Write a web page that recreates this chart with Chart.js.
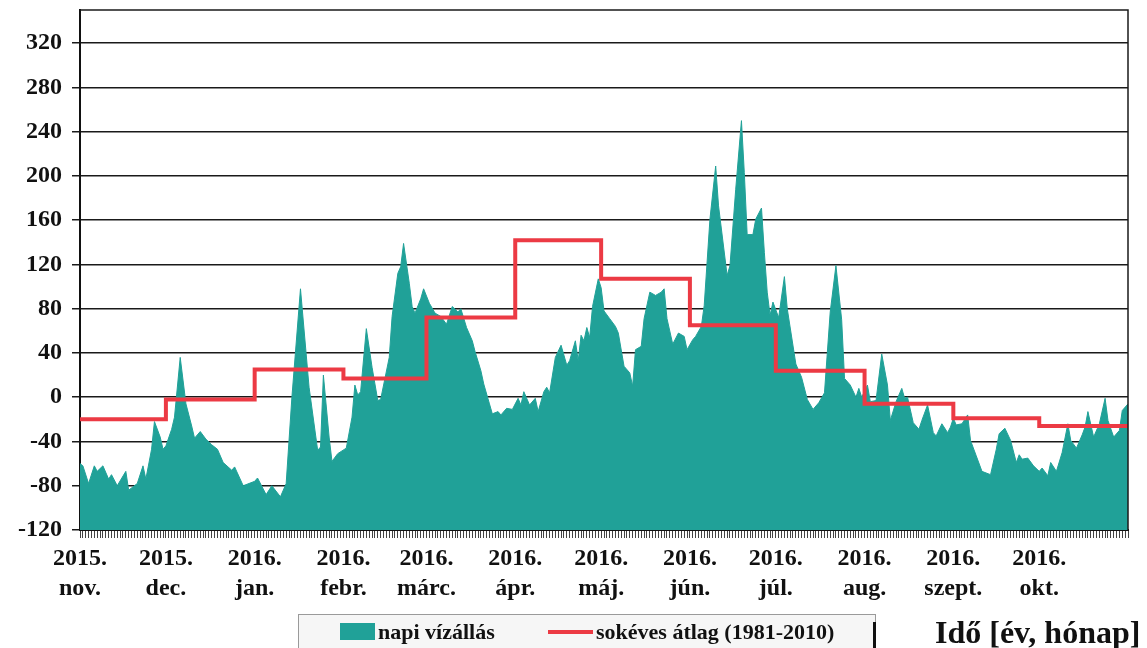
<!DOCTYPE html>
<html><head><meta charset="utf-8">
<script src="https://cdn.jsdelivr.net/npm/chart.js@4.4.1/dist/chart.umd.min.js"></script>
<style>
html,body{margin:0;padding:0;background:#fff;}
#wrap{position:relative;width:1147px;height:648px;overflow:hidden;background:#fff;}
#c{position:absolute;left:0;top:0;}
#legend{position:absolute;left:298px;top:614px;width:576px;height:40px;border:1px solid #9a9a9a;background:#f6f6f6;font-family:'Liberation Serif',serif;font-weight:bold;font-size:22px;color:#111;}
#legend .it{position:absolute;top:0;height:34px;line-height:34px;white-space:nowrap;}
#legend .sw{display:inline-block;vertical-align:middle;margin-right:3px;position:relative;top:-2px;}
#shadow{position:absolute;left:873px;top:622px;width:3px;height:30px;background:#111;}
#xtitle{position:absolute;left:935px;top:612px;font-family:'Liberation Serif',serif;font-weight:bold;font-size:32px;line-height:40px;color:#111;white-space:nowrap;}
</style></head><body>
<div id="wrap"><canvas id="c" width="1147" height="648"></canvas>
<div id="legend"></div><div id="shadow"></div>
<div id="xtitle">Idő [év, hónap]</div>
</div>
<script>
// day index from 2015-11-01 (0) to 2016-10-31 end (366)
const dayIndex = [0,1,3,5,6,8,10,11,13,16,17,20,22,23,25,26,28,29,30,32,33,35,37,39,40,42,44,46,48,50,53,54,57,61,62,65,67,70,72,74,77,80,83,84,85,87,88,90,93,95,96,97,98,100,102,104,105,108,109,111,112,113,115,116,117,119,120,122,124,126,128,130,132,133,135,137,138,140,141,143,144,146,147,149,151,153,154,155,157,159,160,162,163,164,166,168,170,171,173,174,175,176,177,178,179,181,182,183,185,187,188,190,192,193,194,196,197,199,201,203,204,205,207,209,211,212,214,215,217,218,220,222,223,226,227,229,231,232,233,235,236,238,239,240,241,242,244,246,247,250,252,254,256,258,260,262,264,266,267,269,271,272,273,275,276,278,280,282,283,285,287,288,289,291,293,294,296,298,299,301,303,304,305,306,308,310,311,313,315,318,320,321,323,325,327,328,329,331,333,335,336,338,339,341,343,345,346,348,350,351,352,354,356,358,359,361,363,364,366];
const waterLevel = [-60,-62,-78,-62,-67,-62,-74,-70,-80,-67,-84,-78,-62,-74,-47,-22,-36,-47,-44,-29,-18,36,-6,-26,-37,-31,-38,-43,-47,-59,-66,-63,-80,-76,-73,-88,-80,-90,-78,0,98,9,-48,-45,20,-36,-58,-51,-46,-18,11,2,5,62,27,-3,-2,36,73,112,118,139,103,82,76,89,98,85,76,73,66,82,77,80,63,51,41,24,12,-6,-15,-13,-16,-10,-11,-1,-7,5,-7,-1,-13,5,9,4,36,47,29,33,51,33,56,51,63,54,82,107,99,78,71,64,58,28,22,10,43,46,71,95,92,95,98,71,48,58,55,43,52,55,64,83,161,209,173,110,119,188,250,203,147,147,161,171,131,95,74,86,72,109,80,30,18,-2,-11,-5,4,77,119,70,17,11,0,8,0,11,-4,-3,39,11,-21,-4,8,-1,0,-23,-29,-21,-7,-32,-35,-24,-32,-27,-19,-25,-24,-16,-39,-53,-67,-70,-47,-33,-28,-39,-59,-52,-56,-55,-62,-67,-64,-71,-59,-67,-50,-24,-39,-46,-34,-27,-13,-36,-24,-1,-21,-36,-30,-12,-6];
const monthStart = [0,30,61,92,121,152,182,213,243,274,305,335];
const periodEnd = 366;
const monthAvg = [-20,-2,25,17,72,142,107,65,24,-6,-19,-26];
const monthYear = ['2015.','2015.','2016.','2016.','2016.','2016.','2016.','2016.','2016.','2016.','2016.','2016.'];
const monthName = ['nov.','dec.','jan.','febr.','márc.','ápr.','máj.','jún.','júl.','aug.','szept.','okt.'];
const yMin = -120, yMax = 350, yStep = 40;
const seriesNames = ['napi vízállás','sokéves átlag (1981-2010)'];

const levelPts = dayIndex.map((d,i)=>({x:d,y:waterLevel[i]}));
const avgPts = monthStart.map((d,i)=>({x:d,y:monthAvg[i]}));
avgPts.push({x:periodEnd,y:monthAvg[monthAvg.length-1]});

const TEAL = '#20a198', RED = '#ec3a44';
const frame = {
  id:'frame',
  afterDatasetsDraw(chart){
    const {ctx, chartArea:a} = chart;
    ctx.save();
    ctx.strokeStyle='#1a1a1a'; ctx.lineWidth=1.5;
    ctx.beginPath();
    ctx.moveTo(a.left,a.top); ctx.lineTo(a.right,a.top); ctx.lineTo(a.right,a.bottom);
    ctx.stroke();
    ctx.restore();
  }
};
const serif = 'Liberation Serif, Times New Roman, serif';
const chart = new Chart(document.getElementById('c'), {
  data:{datasets:[
    {type:'line',label:seriesNames[0],data:levelPts,borderColor:TEAL,backgroundColor:TEAL,borderWidth:1,pointRadius:0,fill:'start',tension:0,order:1},
    {type:'line',label:seriesNames[1],data:avgPts,borderColor:RED,backgroundColor:RED,borderWidth:4,pointRadius:0,fill:false,stepped:'before',order:0}
  ]},
  options:{
    responsive:false, animation:false, devicePixelRatio:1,
    layout:{padding:{top:10,right:19,left:0,bottom:0}},
    plugins:{legend:{display:false},tooltip:{enabled:false}},
    scales:{
      x:{type:'linear',min:0,max:periodEnd,
        afterFit:s=>{s.height=118;s.paddingLeft=0;s.paddingRight=0;},
        ticks:{stepSize:1,autoSkip:false,maxRotation:0,minRotation:0,padding:6,color:'#111',
          font:{family:serif,weight:'bold',size:24,lineHeight:1.25},
          callback:v=>{const i=monthStart.indexOf(v);return i>=0?[monthYear[i],monthName[i]]:'';}},
        grid:{drawOnChartArea:false,drawTicks:true,tickLength:8,color:'#444',lineWidth:1},
        border:{display:true,color:'#111',width:2}
      },
      y:{type:'linear',min:yMin,max:yMax,
        afterFit:s=>{s.width=80;s.paddingTop=0;s.paddingBottom=0;},
        ticks:{stepSize:yStep,padding:10,color:'#111',font:{family:serif,weight:'bold',size:24},
          callback:v=>(v%yStep===0?String(v):null)},
        grid:{color:'#1a1a1a',lineWidth:1.5,tickLength:8},
        border:{display:true,color:'#111',width:2}
      }
    }
  },
  plugins:[frame]
});

// HTML legend from the datasets
const lg = document.getElementById('legend');
const itemLeft = [41, 249];
chart.data.datasets.forEach((ds,i)=>{
  const it = document.createElement('div'); it.className='it'; it.style.left=itemLeft[i]+'px';
  const sw = document.createElement('span'); sw.className='sw';
  if (ds.fill) { sw.style.width='35px'; sw.style.height='17px'; sw.style.background=ds.backgroundColor; }
  else { sw.style.width='45px'; sw.style.height='4px'; sw.style.background=ds.borderColor; }
  it.appendChild(sw);
  it.appendChild(document.createTextNode(ds.label));
  lg.appendChild(it);
});
</script>
</body></html>
